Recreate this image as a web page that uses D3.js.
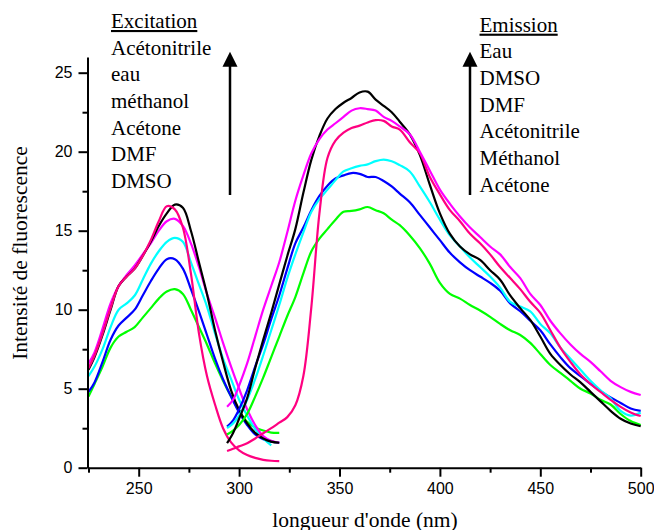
<!DOCTYPE html>
<html><head><meta charset="utf-8">
<script src="https://cdn.jsdelivr.net/npm/d3@7"></script>
<style>body{margin:0;background:#fff} svg{display:block}</style>
</head><body><svg id="c" width="654" height="530"></svg>
<script>
// ---------- DATA ----------
const excX      = [225,228,232,236,240,244,248,252,256,260,264,268,272,276,280,284,288,292,296,300,304,308,312,316,320];
const excBlack  = [6.2,7.0,8.4,10.0,11.5,12.1,12.6,13.4,14.3,15.3,16.1,16.65,16.45,15.0,13.0,11.0,8.7,6.7,4.9,3.65,2.8,2.2,1.85,1.65,1.58];
const excPink   = [6.3,7.1,8.5,10.1,11.5,12.1,12.6,13.4,14.4,15.6,16.55,16.35,15.2,12.3,8.5,5.8,4.0,2.5,1.6,1.1,0.8,0.62,0.5,0.44,0.42];
const excMagenta= [6.6,7.3,8.8,10.4,11.5,12.2,12.8,13.5,14.2,15.0,15.6,15.75,15.3,14.2,12.7,11.0,9.5,7.9,6.4,5.0,3.7,2.7,2.0,1.7,1.58];
const excCyan   = [5.8,6.4,7.5,8.9,10.0,10.4,10.9,11.9,12.9,13.7,14.3,14.55,14.3,13.0,11.6,10.2,8.5,6.9,5.6,4.3,3.3,2.45,1.85,1.42,null];
const excBlue   = [4.8,5.4,6.7,8.1,9.0,9.5,10.0,10.9,11.8,12.6,13.2,13.2,12.6,11.3,9.9,8.4,6.9,5.6,4.5,3.5,2.7,2.1,1.8,1.65,1.58];
const excGreen  = [4.5,5.3,6.4,7.6,8.3,8.6,8.9,9.5,10.1,10.7,11.15,11.3,11.0,10.0,8.9,7.8,6.6,5.5,4.5,3.6,2.9,2.55,2.35,2.22,2.2];

const emX       = [294,297,300,304,308,312,316,320,324,328,332,336,340,344,348,352,356,360,364,368,372,376,380,385,390,395,400,405,410,415,420,425,430,435,440,445,450,455,460,465,470,475,480,485,490,495,500];
const emBlack   = [1.55,2.2,3.1,4.4,6.3,8.1,9.8,11.6,13.4,15.1,17.4,19.5,21.0,22.1,22.7,23.1,23.4,23.75,23.8,23.3,22.9,22.5,21.9,21.1,19.8,17.9,16.1,14.8,14.0,13.5,13.15,12.5,11.9,10.9,10.1,9.35,8.3,7.2,6.5,5.9,5.4,4.8,4.2,3.6,3.1,2.8,2.62];
const emMagenta = [3.86,4.3,5.2,6.6,8.3,10.0,11.5,13.0,14.9,16.9,18.5,19.9,20.8,21.4,21.8,22.2,22.6,22.75,22.7,22.6,22.2,21.95,21.6,21.1,20.0,18.8,17.6,16.7,15.9,15.2,14.6,14.0,13.5,12.7,12.0,11.0,10.3,9.3,8.5,7.8,7.2,6.7,6.1,5.5,5.1,4.8,4.6];
const emPink    = [1.06,1.2,1.35,1.55,1.85,2.18,2.5,2.85,3.2,3.95,5.8,10.2,16.1,19.6,20.7,21.2,21.5,21.65,21.85,22.0,21.95,21.6,21.4,20.6,19.9,18.4,17.3,16.3,15.6,14.8,14.2,13.5,12.7,12.0,11.3,10.5,9.8,8.7,7.6,6.7,5.9,5.3,4.8,4.3,3.85,3.5,3.27];
const emCyan    = [2.5,2.8,3.3,4.3,5.6,7.1,8.7,10.3,12.0,13.5,14.9,16.2,17.0,17.6,18.2,18.75,18.95,19.1,19.2,19.4,19.5,19.4,19.15,18.75,17.8,16.8,15.7,14.7,14.0,13.3,12.7,12.1,11.4,10.5,10.2,9.9,9.1,8.5,7.6,6.9,6.2,5.5,4.9,4.4,3.6,3.3,3.5];
const emBlue    = [2.6,3.0,3.7,4.9,6.4,7.8,9.4,10.9,12.6,14.2,15.2,16.3,17.2,17.85,18.3,18.5,18.65,18.6,18.4,18.4,18.15,17.8,17.35,16.8,16.0,15.2,14.4,13.6,13.0,12.5,12.1,11.7,11.2,10.4,9.9,9.3,8.7,7.8,7.0,6.3,5.8,5.3,4.85,4.45,4.1,3.75,3.6];
const emGreen   = [2.1,2.35,2.7,3.4,4.5,5.7,7.0,8.3,9.6,10.8,12.3,13.7,14.5,15.1,15.7,16.2,16.25,16.35,16.5,16.3,16.1,15.7,15.35,14.7,13.9,12.9,11.7,11.0,10.7,10.3,9.95,9.55,9.1,8.7,8.4,7.9,7.2,6.5,6.0,5.5,5.0,4.7,4.3,4.0,3.4,2.95,2.7];

const xMajor = [250,300,350,400,450,500];
const xMinor = [225,275,325,375,425,475];
const yMajor = [0,5,10,15,20,25];
const yMinor = [2.5,7.5,12.5,17.5,22.5];

const excLegend = ["Acétonitrile","eau","méthanol","Acétone","DMF","DMSO"];
const emLegend  = ["Eau","DMSO","DMF","Acétonitrile","Méthanol","Acétone"];

const colBlack="#000000", colPink="#ff0080", colMagenta="#ff00ff", colCyan="#00ffff", colBlue="#0000ff", colGreen="#00ff00";

// ---------- CHART ----------
const svg = d3.select("#c");
const x = d3.scaleLinear().domain([224.5, 500]).range([87.5, 640.7]);
const y = d3.scaleLinear().domain([0, 26]).range([467.7, 56.9]);

const series = [
  {xs: excX, ys: excGreen,   c: colGreen},
  {xs: excX, ys: excBlue,    c: colBlue},
  {xs: excX, ys: excCyan,    c: colCyan},
  {xs: excX, ys: excMagenta, c: colMagenta},
  {xs: excX, ys: excBlack,   c: colBlack},
  {xs: excX, ys: excPink,    c: colPink},
  {xs: emX, ys: emGreen,   c: colGreen},
  {xs: emX, ys: emBlue,    c: colBlue},
  {xs: emX, ys: emCyan,    c: colCyan},
  {xs: emX, ys: emBlack,   c: colBlack},
  {xs: emX, ys: emPink,    c: colPink},
  {xs: emX, ys: emMagenta, c: colMagenta}
];

const line = d3.line()
  .defined(d => d[1] != null)
  .x(d => x(d[0])).y(d => y(d[1]))
  .curve(d3.curveCatmullRom.alpha(0.5));

svg.append("g").selectAll("path").data(series).join("path")
  .attr("d", s => line(s.xs.map((v,i) => [v, s.ys[i]])))
  .attr("fill","none").attr("stroke", s => s.c).attr("stroke-width", 2.2)
  .attr("stroke-linejoin","round");

// axes
const font = "'Liberation Sans', Arial, sans-serif";
svg.append("g").attr("transform","translate(0,467.7)")
  .call(d3.axisBottom(x).tickValues(xMajor).tickSize(9).tickSizeOuter(0).tickPadding(6).tickFormat(d3.format("d")));
svg.append("g").attr("transform","translate(0,467.7)")
  .call(d3.axisBottom(x).tickValues(xMinor).tickSize(5).tickSizeOuter(0).tickFormat(""))
  .select(".domain").remove();
svg.append("g").attr("transform","translate(87.5,0)")
  .call(d3.axisLeft(y).tickValues(yMajor).tickSize(9).tickSizeOuter(0).tickPadding(6).tickFormat(d3.format("d")));
svg.append("g").attr("transform","translate(87.5,0)")
  .call(d3.axisLeft(y).tickValues(yMinor).tickSize(5).tickSizeOuter(0).tickFormat(""))
  .select(".domain").remove();
svg.selectAll(".domain, .tick line").attr("stroke","#000").attr("stroke-width",2);
svg.selectAll(".tick text").attr("font-family",font).attr("font-size",16).attr("fill","#000");

// axis titles
const serif = "'Liberation Serif','Times New Roman',serif";
svg.append("text").attr("x",365).attr("y",526.5).attr("text-anchor","middle")
  .attr("font-family",serif).attr("font-size",21.5).text("longueur d'onde (nm)");
svg.append("text").attr("transform","translate(27,253) rotate(-90)").attr("text-anchor","middle")
  .attr("font-family",serif).attr("font-size",21.5).text("Intensité de fluorescence");

// legends
function legend(x0, y0, title, items, ax) {
  const g = svg.append("g").attr("font-family",serif).attr("font-size",21).attr("fill","#000");
  g.append("text").attr("x",x0).attr("y",y0).attr("text-decoration","underline").text(title);
  g.selectAll("text.it").data(items).join("text").attr("class","it")
    .attr("x",x0).attr("y",(d,i)=>y0+26.67*(i+1)).text(d=>d);
  g.append("line").attr("x1",ax).attr("x2",ax).attr("y1",195).attr("y2",64)
    .attr("stroke","#000").attr("stroke-width",2.5);
  g.append("path").attr("d",`M${ax},51.7L${ax-7.5},66.7L${ax+7.5},66.7Z`).attr("fill","#000");
}
legend(111, 28, "Excitation", excLegend, 230);
legend(479.5, 31.7, "Emission", emLegend, 470);
</script></body></html>
